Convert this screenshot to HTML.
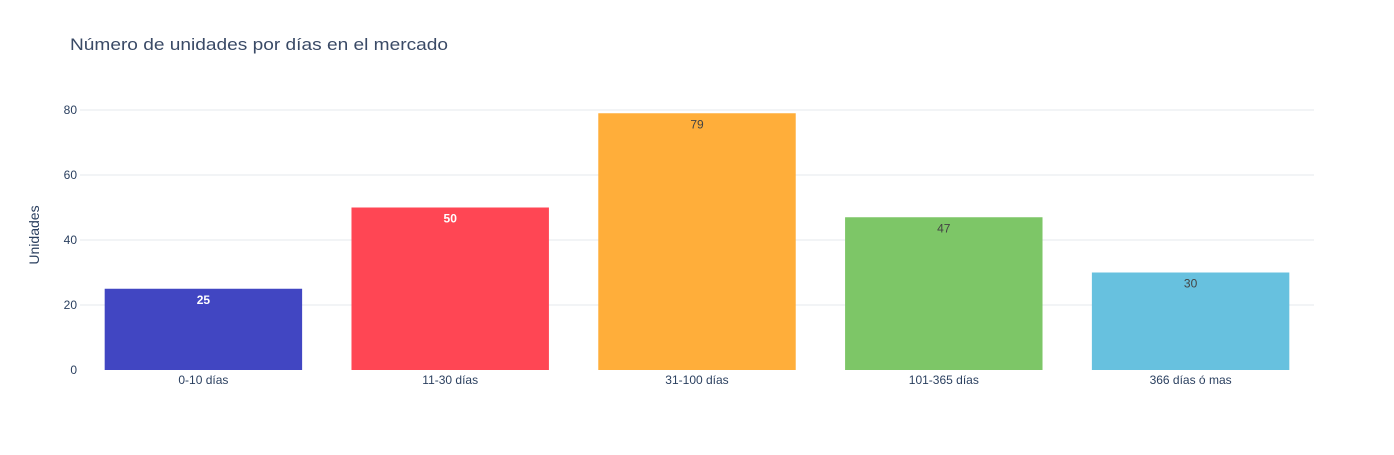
<!DOCTYPE html>
<html><head><meta charset="utf-8"><style>
body{margin:0;background:#fff;font-family:"Liberation Sans",Arial,sans-serif}
svg text{font-family:"Liberation Sans",Arial,sans-serif}
</style></head><body>
<svg id="chart" width="1394" height="450">
<text x="70" y="50" font-size="17" fill="#3a4a66" textLength="378" lengthAdjust="spacingAndGlyphs">Número de unidades por días en el mercado</text>
<g id="grid"></g><g id="bars"></g><g id="labels"></g>
<text transform="translate(39,235) rotate(-90)" text-anchor="middle" font-size="14" fill="#2a3f5f">Unidades</text>
</svg>
<script>
const categories=["0-10 días","11-30 días","31-100 días","101-365 días","366 días ó mas"];
const values=[25,50,79,47,30];
const colors=["#4146c2","#ff4654","#ffae3a","#7dc667","#67c1df"];
const yTicks=[0,20,40,60,80];
const X0=80,X1=1314,Y0=370,Y80=110;
const ns="http://www.w3.org/2000/svg";
const y=v=>Y0-(v/80)*(Y0-Y80);
const step=(X1-X0)/categories.length;
const xc=i=>X0+step*(i+0.5);
function mk(t,a,p){const e=document.createElementNS(ns,t);for(const k in a)e.setAttribute(k,a[k]);p.appendChild(e);return e;}
const g=document.getElementById('grid'),b=document.getElementById('bars'),l=document.getElementById('labels');
yTicks.forEach(t=>{
 if(t>0){const ln=mk('line',{x1:X0,x2:X1,y1:y(t),y2:y(t),stroke:'#e5e8ee','stroke-width':1},g);
 
 }
 const tx=mk('text',{x:X0-3,y:y(t)+4,'text-anchor':'end','font-size':12,fill:'#2a3f5f'},g);tx.textContent=t;
 
 
});
categories.forEach((c,i)=>{
 const w=step*0.8;
 const r=mk('rect',{x:xc(i)-w/2,y:y(values[i]),width:w,height:Y0-y(values[i]),fill:colors[i]},b);
 
 
 const dark=i<2;
 const v=mk('text',{x:xc(i),y:y(values[i])+15,'text-anchor':'middle','font-size':12,fill:dark?'#fff':'#444','font-weight':dark?'bold':'normal'},l);v.textContent=values[i];
 
 
 const xt=mk('text',{x:xc(i),y:Y0+14,'text-anchor':'middle','font-size':12,fill:'#2a3f5f'},l);xt.textContent=c;
 
 
});
</script>
</body></html>
